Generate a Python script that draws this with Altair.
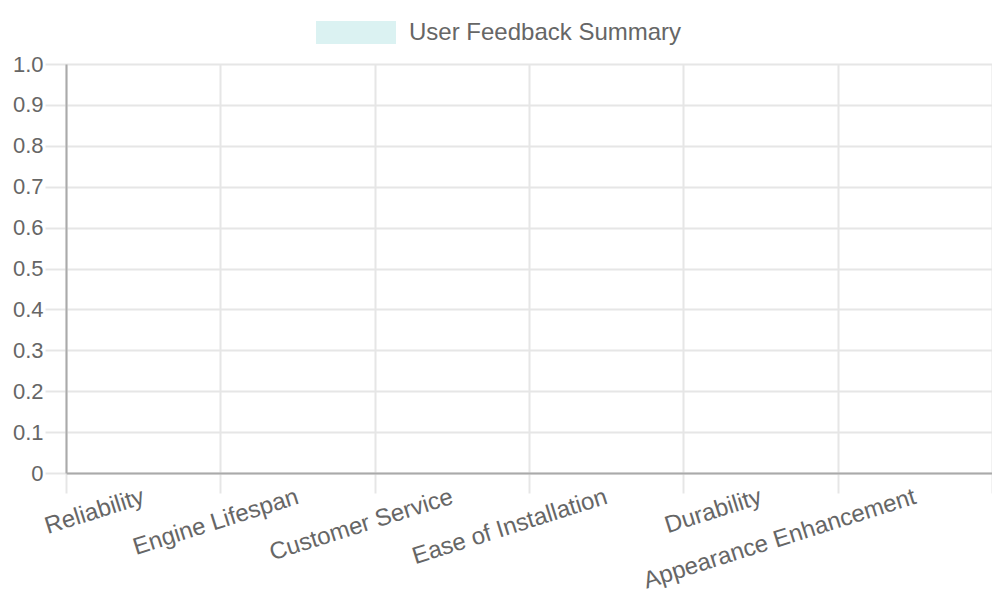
import altair as alt
import pandas as pd

categories = ["Reliability", "Engine Lifespan", "Customer Service",
              "Ease of Installation", "Durability", "Appearance Enhancement"]
values = [0, 0, 0, 0, 0, 0]
series_name = "User Feedback Summary"
y_ticks = [0, 0.1, 0.2, 0.3, 0.4, 0.5, 0.6, 0.7, 0.8, 0.9, 1.0]

df = pd.DataFrame({"category": categories, "value": values, "series": [series_name] * len(categories)})

FONT = "Liberation Sans"
TXT = "#666666"
GRID = "#e6e6e6"
AXIS = "#aaaaaa"

chart = alt.Chart(df).mark_bar().encode(
    x=alt.X("category:N", sort=categories, title=None,
            scale=alt.Scale(paddingInner=0, paddingOuter=0),
            axis=alt.Axis(labelAngle=-17.5, labelAlign="right", labelBaseline="middle",
                          tickBand="extent", grid=True, gridColor=GRID, gridWidth=2,
                          tickColor=GRID, tickWidth=2, tickSize=20, labelPadding=3,
                          domainColor=AXIS, domainWidth=2, labelFontSize=24, labelColor=TXT,
                          labelFont=FONT, labelLimit=0, labelOverlap=False)),
    y=alt.Y("value:Q", title=None, scale=alt.Scale(domain=[0, 1]),
            axis=alt.Axis(values=y_ticks,
                          labelExpr="datum.value == 0 ? '0' : format(datum.value, '.1f')",
                          gridColor=GRID, gridWidth=2, tickColor=GRID, tickWidth=2,
                          tickSize=21, labelPadding=2,
                          domainColor=AXIS, domainWidth=2, labelFontSize=22, labelColor=TXT,
                          labelFont=FONT, labelOverlap=False)),
    color=alt.Color("series:N", title=None,
                    scale=alt.Scale(range=["rgba(75,192,192,0.2)"]),
                    legend=alt.Legend(orient="none", legendX=250, legendY=-71.5,
                                      symbolType="M-1,-0.2875H1V0.2875H-1Z",
                                      symbolSize=6400, symbolStrokeWidth=0,
                                      symbolOpacity=1, labelOffset=13,
                                      labelFontSize=24, labelColor=TXT, labelFont=FONT,
                                      labelLimit=0, padding=0)),
).properties(
    width=926, height=409,
    autosize=alt.AutoSizeParams(type="none"),
    padding={"left": 58, "top": 56, "right": 0, "bottom": 119},
).configure_view(stroke=None)

chart.save("out.html", embed_options={"renderer": "svg", "actions": False})
